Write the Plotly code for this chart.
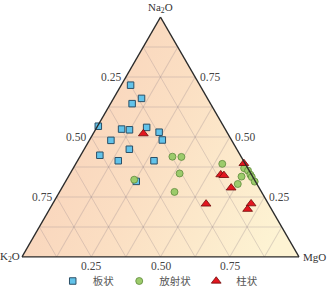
import base64
import plotly.graph_objects as go

# ---- data (fractions) ----
plate_na2o = [0.716, 0.661, 0.639, 0.545, 0.533, 0.530, 0.540, 0.520, 0.486, 0.488, 0.449, 0.424, 0.401, 0.401, 0.315]
plate_k2o  = [0.250, 0.238, 0.283, 0.452, 0.374, 0.347, 0.280, 0.245, 0.436, 0.250, 0.388, 0.507, 0.452, 0.323, 0.430]
plate_mgo  = [0.034, 0.101, 0.078, 0.003, 0.093, 0.123, 0.180, 0.235, 0.078, 0.263, 0.163, 0.069, 0.147, 0.276, 0.255]

radial_na2o = [0.418, 0.417, 0.348, 0.271, 0.322, 0.388, 0.370, 0.360, 0.343, 0.333, 0.335, 0.314, 0.304]
radial_k2o  = [0.248, 0.216, 0.257, 0.314, 0.434, 0.083, 0.013, 0.004, 0.004, 0.004, 0.040, 0.003, 0.069]
radial_mgo  = [0.334, 0.367, 0.395, 0.415, 0.244, 0.529, 0.617, 0.636, 0.653, 0.663, 0.625, 0.683, 0.627]

column_na2o = [0.514, 0.390, 0.343, 0.340, 0.288, 0.221, 0.222, 0.199]
column_k2o  = [0.305, 0.004, 0.111, 0.101, 0.101, 0.225, 0.062, 0.086]
column_mgo  = [0.181, 0.606, 0.546, 0.559, 0.611, 0.554, 0.716, 0.715]

series_names = ["板状", "放射状", "柱状"]
tick_values = [0.25, 0.50, 0.75]
tick_labels = ["0.25", "0.50", "0.75"]

W, H = 331, 291
ML, MR, MT, MB = 22, 32, 17, 34

fig = go.Figure()

marker_styles = [
    dict(symbol="square", size=6.5, color="#62c3ea", line=dict(color="#2b4f66", width=1)),
    dict(symbol="circle", size=7, color="#9ccb6b", line=dict(color="#5f8a3c", width=0.8)),
    dict(symbol="triangle-up", size=8.5, color="#e3161f", line=dict(color="#6e0a0a", width=0.8)),
]
for name, a, b, c, m in zip(series_names,
                            [plate_na2o, radial_na2o, column_na2o],
                            [plate_k2o, radial_k2o, column_k2o],
                            [plate_mgo, radial_mgo, column_mgo],
                            marker_styles):
    fig.add_trace(go.Scatterternary(a=a, b=b, c=c, mode="markers", name=name,
                                    marker=m, cliponaxis=False))

axis_common = dict(showticklabels=False, ticks="", showgrid=True, dtick=0.125, tick0=0,
                   gridcolor="rgba(140,125,135,0.28)", gridwidth=1,
                   showline=True, linecolor="#2a2a2a", linewidth=1.3, title=dict(text=""))

fig.update_layout(
    width=W, height=H,
    margin=dict(l=ML, r=MR, t=MT, b=MB, pad=0, autoexpand=False),
    paper_bgcolor="white",
    ternary=dict(sum=1, bgcolor="rgba(0,0,0,0)", domain=dict(x=[0, 1], y=[0, 1]),
                 aaxis=axis_common, baxis=axis_common, caxis=axis_common),
    showlegend=True,
    legend=dict(orientation="h", x=0.49, xanchor="center", xref="paper",
                y=10 / H, yref="container", yanchor="middle",
                font=dict(family="Noto Sans CJK SC", size=10.5, color="#555555"),
                itemwidth=30, tracegroupgap=0, bgcolor="rgba(0,0,0,0)"),
)

# gradient background of the triangle
pw, ph = W - ML - MR, H - MT - MB
svg = (f'<svg xmlns="http://www.w3.org/2000/svg" width="{pw}" height="{ph}" '
       f'viewBox="0 0 {pw} {ph}" preserveAspectRatio="none"><defs>'
       '<linearGradient id="g" x1="0" y1="0.3" x2="1" y2="0.7">'
       '<stop offset="0" stop-color="#f8d0b9"/><stop offset="0.5" stop-color="#fbdfc3"/>'
       '<stop offset="1" stop-color="#fdf3d3"/></linearGradient></defs>'
       f'<polygon points="0,{ph} {pw},{ph} {pw/2},0" fill="url(#g)"/></svg>')
src = "data:image/svg+xml;base64," + base64.b64encode(svg.encode()).decode()
fig.add_layout_image(dict(source=src, xref="paper", yref="paper", x=0, y=1, sizex=1, sizey=1,
                          xanchor="left", yanchor="top", sizing="stretch", layer="below"))

tick_font = dict(family="Liberation Serif", size=11.5, color="#444444")
ann = []
for v, t in zip(tick_values, tick_labels):
    # K2O labels on left edge (MgO = 0)
    a = 1 - v
    ann.append(dict(x=a / 2, y=a, text=t, xanchor="right", yanchor="middle", xshift=-3, showarrow=False, font=tick_font))
    # Na2O labels on right edge (K2O = 0)
    ann.append(dict(x=1 - v / 2, y=v, text=t, xanchor="left", yanchor="middle", xshift=3, showarrow=False, font=tick_font))
    # MgO labels on bottom edge (Na2O = 0)
    ann.append(dict(x=v, y=0, text=t, xanchor="center", yanchor="top", yshift=-1, showarrow=False, font=tick_font))

title_font = dict(family="Liberation Serif", size=11, color="#333333")
ann.append(dict(x=0.5, y=1, text="Na<sub>2</sub>O", xanchor="center", yanchor="bottom", yshift=0, showarrow=False, font=title_font))
ann.append(dict(x=0, y=0, text="K<sub>2</sub>O", xanchor="right", yanchor="middle", xshift=0, showarrow=False, font=title_font))
ann.append(dict(x=1, y=0, text="MgO", xanchor="left", yanchor="middle", xshift=2, showarrow=False, font=title_font))
for d in ann:
    d.update(xref="paper", yref="paper")
fig.update_layout(annotations=ann)

fig.write_html("out.html", config={"displayModeBar": False},
               post_script="document.body.style.margin='0';document.body.style.padding='0';"
                           "document.body.style.overflow='hidden';")
